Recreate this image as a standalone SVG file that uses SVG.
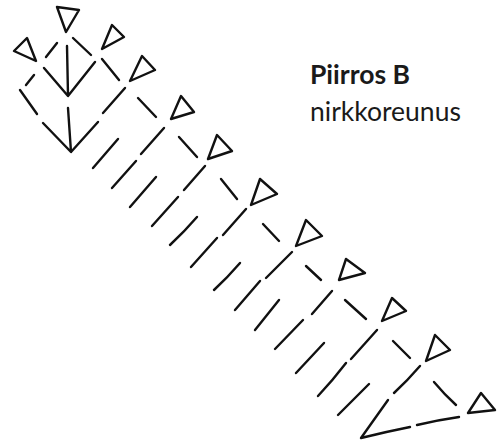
<svg xmlns="http://www.w3.org/2000/svg" width="497" height="441" viewBox="0 0 497 441">
<style>
.s{fill:none;stroke:#111;stroke-width:2.4;stroke-linecap:round;stroke-linejoin:round}
text{font-family:Lato,"Open Sans",sans-serif;font-size:26.5px;fill:#1a1a1a}
</style>
<rect width="497" height="441" fill="#fff"/>
<g id="connectors" class="s">
<path d="M46 57L57 43M67 46L68 95M73 38L91 55M44 68L68 96L95 62M102 59L119 80M26 85L34 75M20 90L37 114M43 123L71 152L98 122M68 108L71 152M103 113L125 88M138 98L156 117M141 154L164 128M93 168L118 139M112 188L136 161M130 207L156 177M184 190L205 166M179 137L197 157M221 179L237 199M152 226L178 197M170 245Q185 231 197 217M191 267L217 238M223 235L246 209M263 224L279 241M214 290Q228 277 240 263M266 278L292 252M235 310L260 281M255 330L279 300M312 314L332 291M306 266L321 280M275 349L303 320M345 300L366 319M296 373L324 343M351 359L377 330M318 396Q333 380 346 363M393 341L410 358M338 415L369 384M394 393Q408 380 420 366M434 382Q444 394 456 405M388 400L361 438Q385 432 410 427M417 425Q438 420 459 417"/>
</g>
<g id="t1"><path class="s" d="M57 7L79 10L66 32Z"/></g>
<g id="t2"><path class="s" d="M14 51L27 38L36 61Z"/></g>
<g id="t3"><path class="s" d="M102 49L112 25L124 37Z"/></g>
<g id="t4"><path class="s" d="M130 81L142 56L155 70Z"/></g>
<g id="t5"><path class="s" d="M171 119L181 96L194 112Z"/></g>
<g id="t6"><path class="s" d="M208 159L217 135L232 151Z"/></g>
<g id="t7"><path class="s" d="M251 205L260 179L277 194Z"/></g>
<g id="t8"><path class="s" d="M296 246L306 220L322 236Z"/></g>
<g id="t9"><path class="s" d="M339 280L346 259L365 273Z"/></g>
<g id="t10"><path class="s" d="M382 321L392 298L406 311Z"/></g>
<g id="t11"><path class="s" d="M426 361L435 335L450 350Z"/></g>
<g id="t12"><path class="s" d="M468 413L481 393L495 410Z"/></g>
<g id="label">
<text x="310" y="84" font-weight="700">Piirros B</text>
<text x="310" y="121">nirkkoreunus</text>
</g>
</svg>
